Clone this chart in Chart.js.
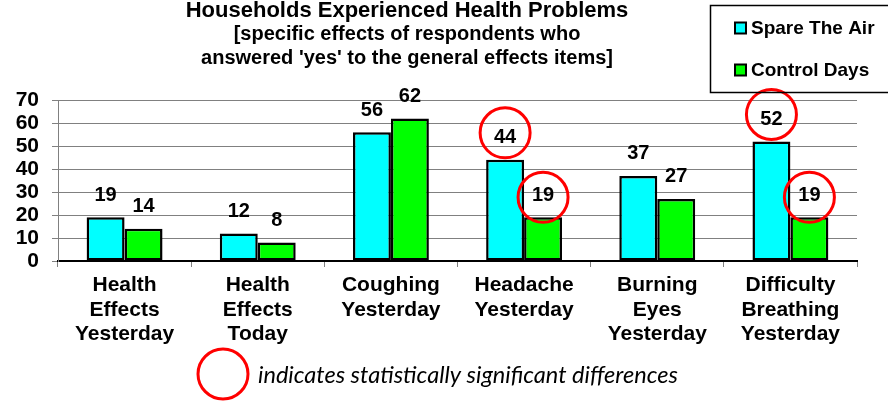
<!DOCTYPE html>
<html><head><meta charset="utf-8">
<script src="https://cdn.jsdelivr.net/npm/chart.js@4/dist/chart.umd.min.js"></script>
<style>html,body{margin:0;padding:0;background:#fff;overflow:hidden}#wrap{width:888px;height:401px;position:relative}canvas{display:block}</style>
</head><body><div id="wrap"><canvas id="c" width="888" height="401"></canvas></div>
<script>
const categories = [
  ["Health","Effects","Yesterday"],
  ["Health","Effects","Today"],
  ["Coughing","Yesterday"],
  ["Headache","Yesterday"],
  ["Burning","Eyes","Yesterday"],
  ["Difficulty","Breathing","Yesterday"]
];
const seriesNames = ["Spare The Air","Control Days"];
const spareTheAir = [19,12,56,44,37,52];
const controlDays = [14,8,62,19,27,19];
const significantSpare = [false,false,false,true,false,true];
const significantControl = [false,false,false,true,false,true];
const yTickValues = [0,10,20,30,40,50,60,70];
const titleLine = "Households Experienced Health Problems";
const subtitleLines = ["[specific effects of respondents who","answered 'yes' to the general effects items]"];
const noteText = "indicates statistically significant differences";

const FONT = '"Liberation Sans", Arial, sans-serif';
Chart.defaults.font.family = FONT;
const colors = ['#00FFFF','#00FF00'];
const sig = [significantSpare, significantControl];

const decor = {
  id:'decor',
  afterDatasetsDraw(chart){
    const ctx = chart.ctx;
    ctx.save();
    chart.data.datasets.forEach((ds,di)=>{
      const meta = chart.getDatasetMeta(di);
      meta.data.forEach((bar,i)=>{
        const cy = bar.y - 23;
        ctx.font = 'bold 20px ' + FONT;
        ctx.textAlign='center'; ctx.textBaseline='middle'; ctx.fillStyle='#000';
        ctx.fillText(String(ds.data[i]), bar.x, cy+1);
        if (sig[di][i]) {
          ctx.beginPath();
          ctx.arc(bar.x, cy + (di===0?-4:3), 25, 0, Math.PI*2);
          ctx.strokeStyle='#FF0000'; ctx.lineWidth=3; ctx.stroke();
        }
      });
    });
    ctx.restore();
  },
  afterDraw(chart){
    const ctx = chart.ctx;
    ctx.save();
    ctx.fillStyle='#000'; ctx.textAlign='center'; ctx.textBaseline='alphabetic';
    ctx.font='bold 22px '+FONT;
    ctx.fillText(titleLine, 407, 17);
    ctx.font='bold 20px '+FONT;
    ctx.fillText(subtitleLines[0], 407, 40);
    ctx.fillText(subtitleLines[1], 407, 64);
    // legend box
    ctx.strokeStyle='#000'; ctx.lineWidth=1.5;
    ctx.strokeRect(710.5,5.5,185,87);
    ctx.textAlign='left';
    ctx.font='bold 19px '+FONT;
    const ys=[28,70];
    seriesNames.forEach((n,k)=>{
      ctx.fillStyle=colors[k];
      ctx.fillRect(735,ys[k]-5.5,11,11);
      ctx.strokeStyle='#000'; ctx.lineWidth=2;
      ctx.strokeRect(735,ys[k]-5.5,11,11);
      ctx.fillStyle='#000';
      ctx.fillText(n, 751, ys[k]+6);
    });
    // note
    ctx.beginPath(); ctx.arc(223,374,25,0,Math.PI*2);
    ctx.strokeStyle='#FF0000'; ctx.lineWidth=3; ctx.stroke();
    let fs=20;
    ctx.font='italic '+fs+'px Lato';
    const w=ctx.measureText(noteText).width;
    fs = fs*420/w;
    ctx.font='italic '+fs.toFixed(2)+'px Lato';
    ctx.fillStyle='#000';
    ctx.fillText(noteText, 258, 383);
    ctx.restore();
  }
};

new Chart(document.getElementById('c'), {
  type:'bar',
  data:{
    labels: categories,
    datasets:[
      {label:seriesNames[0], data:spareTheAir, backgroundColor:colors[0], borderColor:'#000', borderWidth:2.5, borderSkipped:false, categoryPercentage:0.57, barPercentage:1},
      {label:seriesNames[1], data:controlDays, backgroundColor:colors[1], borderColor:'#000', borderWidth:2.5, borderSkipped:false, categoryPercentage:0.57, barPercentage:1}
    ]
  },
  options:{
    responsive:false, devicePixelRatio:1, animation:false,
    layout:{padding:{top:100,right:31,left:0,bottom:0}},
    plugins:{legend:{display:false},title:{display:false},tooltip:{enabled:false}},
    scales:{
      x:{
        grid:{display:true,drawOnChartArea:false,drawTicks:true,tickLength:6,color:'#808080',offset:true},
        border:{display:true,color:'#000',width:2},
        ticks:{color:'#000',font:{size:21,weight:'bold',lineHeight:1.17},padding:6,maxRotation:0,autoSkip:false},
        afterFit(s){s.height=140;}
      },
      y:{
        min:0,max:70,
        afterBuildTicks(s){s.ticks=yTickValues.map(v=>({value:v}));},
        ticks:{color:'#000',font:{size:21,weight:'bold'},padding:13,autoSkip:false},
        grid:{color:'#808080',tickLength:6,lineWidth:1},
        border:{display:true,color:'#808080'},
        afterFit(s){s.width=58;}
      }
    }
  },
  plugins:[decor]
});
</script></body></html>
